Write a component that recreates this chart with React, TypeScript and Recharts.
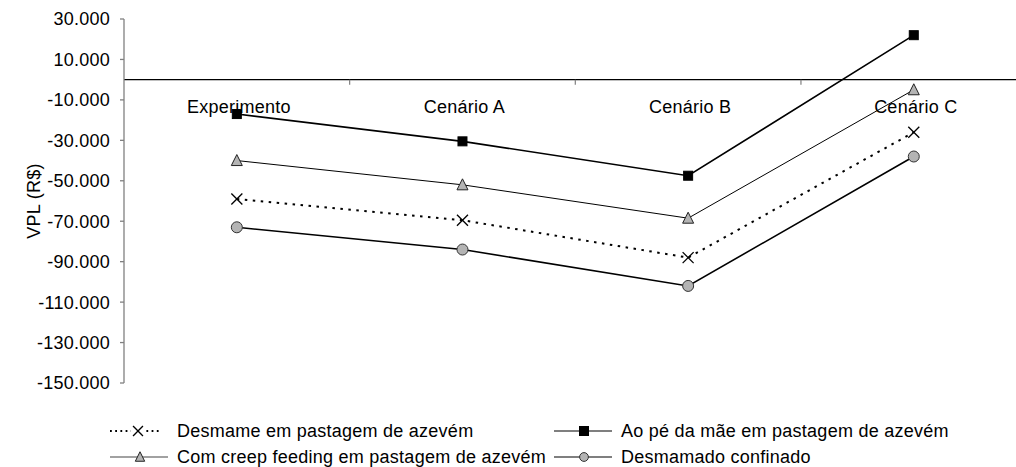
import React from 'react';
import { LineChart, Line, XAxis, YAxis, ReferenceLine, ReferenceDot } from 'recharts';

const categories = ['Experimento', 'Cenário A', 'Cenário B', 'Cenário C'];
const positions = [1, 2, 3, 4];
const desmame = [-59000, -69500, -88000, -26000];
const aoPe = [-17000, -30500, -47500, 22000];
const creep = [-40000, -52000, -68500, -5000];
const confinado = [-73000, -84000, -102000, -38000];
const yTicks = [30000, 10000, -10000, -30000, -50000, -70000, -90000, -110000, -130000, -150000];
const boundaries = [1.5, 2.5, 3.5];

const FONT = '"Liberation Sans", Arial, sans-serif';
const FS = 18;
const LS = 0.25;

const data = categories.map((c, i) => ({
  pos: positions[i],
  cat: c,
  desmame: desmame[i],
  aoPe: aoPe[i],
  creep: creep[i],
  confinado: confinado[i],
}));

const fmt = (v: number) => {
  const s = Math.abs(v).toFixed(0).replace(/\B(?=(\d{3})+(?!\d))/g, '.');
  return (v < 0 ? '-' : '') + s;
};

type Kind = 'x' | 'square' | 'triangle' | 'circle';

const Marker = ({ kind, cx, cy, scale = 1 }: { kind: Kind; cx: number; cy: number; scale?: number }) => {
  if (cx == null || cy == null) return null;
  if (kind === 'square') {
    const s = 9 * scale;
    return <rect x={cx - s / 2} y={cy - s / 2} width={s} height={s} fill="#000" stroke="#000" />;
  }
  if (kind === 'triangle') {
    const w = 11 * scale, h = 10 * scale;
    return (
      <polygon
        points={`${cx},${cy - h / 2 - 1} ${cx - w / 2},${cy + h / 2} ${cx + w / 2},${cy + h / 2}`}
        fill="#b4b4b4"
        stroke="#222"
        strokeWidth={1}
      />
    );
  }
  if (kind === 'circle') {
    return <circle cx={cx} cy={cy} r={5.5 * scale} fill="#b4b4b4" stroke="#333" strokeWidth={1} />;
  }
  const d = 5.5 * scale;
  return (
    <g stroke="#000" strokeWidth={1.3}>
      <line x1={cx - d} y1={cy - d} x2={cx + d} y2={cy + d} />
      <line x1={cx - d} y1={cy + d} x2={cx + d} y2={cy - d} />
    </g>
  );
};

const series = [
  { key: 'desmame', name: 'Desmame em pastagem de azevém', kind: 'x' as Kind, width: 2, dash: '2.5 5.5', color: '#000' },
  { key: 'aoPe', name: 'Ao pé da mãe em pastagem de azevém', kind: 'square' as Kind, width: 1.6, dash: undefined, color: '#000' },
  { key: 'creep', name: 'Com creep feeding em pastagem de azevém', kind: 'triangle' as Kind, width: 1, dash: undefined, color: '#000' },
  { key: 'confinado', name: 'Desmamado confinado', kind: 'circle' as Kind, width: 1.6, dash: undefined, color: '#000' },
];

const legendLayout = [
  { key: 'desmame', x: 110, y: 431 },
  { key: 'aoPe', x: 554, y: 431 },
  { key: 'creep', x: 110, y: 457 },
  { key: 'confinado', x: 554, y: 457 },
];

const renderYLabel = () => (
  <text
    x={34}
    y={201}
    transform="rotate(-90 34 201)"
    textAnchor="middle"
    dominantBaseline="central"
    fontFamily={FONT}
    fontSize={FS}
    letterSpacing={LS}
    fill="#000"
  >
    VPL (R$)
  </text>
);

export default function App() {
  return (
    <div style={{ position: 'absolute', left: 0, top: 0, width: 1016, height: 467, background: '#fff', overflow: 'hidden' }}>
      <LineChart
        width={1016}
        height={467}
        data={data}
        margin={{ top: 19, right: 0, bottom: 84, left: 0 }}
        style={{ fontFamily: FONT }}
      >
        <XAxis dataKey="pos" type="number" domain={[0.5, 4.453]} allowDataOverflow hide />
        <YAxis
          type="number"
          domain={[-150000, 30000]}
          ticks={yTicks}
          interval={0}
          width={124}
          tickFormatter={fmt}
          tick={{ fill: '#000', fontSize: FS, fontFamily: FONT, letterSpacing: LS }}
          tickSize={4}
          tickMargin={10}
          axisLine={{ stroke: '#808080', strokeWidth: 1.3 }}
          tickLine={{ stroke: '#808080', strokeWidth: 1.3 }}
          label={renderYLabel}
        />
        <ReferenceLine y={0} stroke="#000" strokeWidth={1.2} />
        {boundaries.map((b) => (
          <ReferenceDot
            key={'b' + b}
            x={b}
            y={0}
            r={0}
            shape={(p: any) => <line x1={p.cx} y1={p.cy} x2={p.cx} y2={p.cy + 5} stroke="#808080" strokeWidth={1.2} />}
          />
        ))}
        {data.map((d) => (
          <ReferenceDot
            key={'l' + d.cat}
            x={d.pos}
            y={0}
            r={0}
            shape={(p: any) => (
              <text
                x={p.cx + 2}
                y={p.cy + 27}
                textAnchor="middle"
                dominantBaseline="central"
                fontFamily={FONT}
                fontSize={FS}
                letterSpacing={LS}
                fill="#000"
              >
                {d.cat}
              </text>
            )}
          />
        ))}
        {series.map((s) => (
          <Line
            key={s.key}
            type="linear"
            dataKey={s.key}
            name={s.name}
            stroke={s.color}
            strokeWidth={s.width}
            strokeDasharray={s.dash}
            isAnimationActive={false}
            dot={(p: any) => <Marker key={s.key + p.index} kind={s.kind} cx={p.cx} cy={p.cy} />}
            activeDot={false}
          />
        ))}
      </LineChart>
      <svg
        width={1016}
        height={467}
        style={{ position: 'absolute', left: 0, top: 0, pointerEvents: 'none' }}
      >
        {legendLayout.map((l) => {
          const s = series.find((q) => q.key === l.key)!;
          const isX = s.kind === 'x';
          return (
            <g key={l.key}>
              <line
                x1={l.x}
                y1={l.y}
                x2={l.x + (isX ? 50 : 58)}
                y2={l.y}
                stroke={s.kind === 'triangle' ? '#444' : '#000'}
                strokeWidth={isX ? 1.8 : 1.2}
                strokeDasharray={isX ? '1.8 3.4' : undefined}
              />
              {isX && <rect x={l.x + 21} y={l.y - 7} width={14} height={14} fill="#fff" />}
              <Marker
                kind={s.kind}
                cx={l.x + (isX ? 28 : 30)}
                cy={l.y}
                scale={s.kind === 'circle' ? 0.8 : s.kind === 'triangle' ? 0.85 : isX ? 0.9 : 1}
              />
              <text
                x={l.x + 67}
                y={l.y}
                dominantBaseline="central"
                fontFamily={FONT}
                fontSize={FS}
                letterSpacing={LS}
                fill="#000"
              >
                {s.name}
              </text>
            </g>
          );
        })}
      </svg>
    </div>
  );
}
